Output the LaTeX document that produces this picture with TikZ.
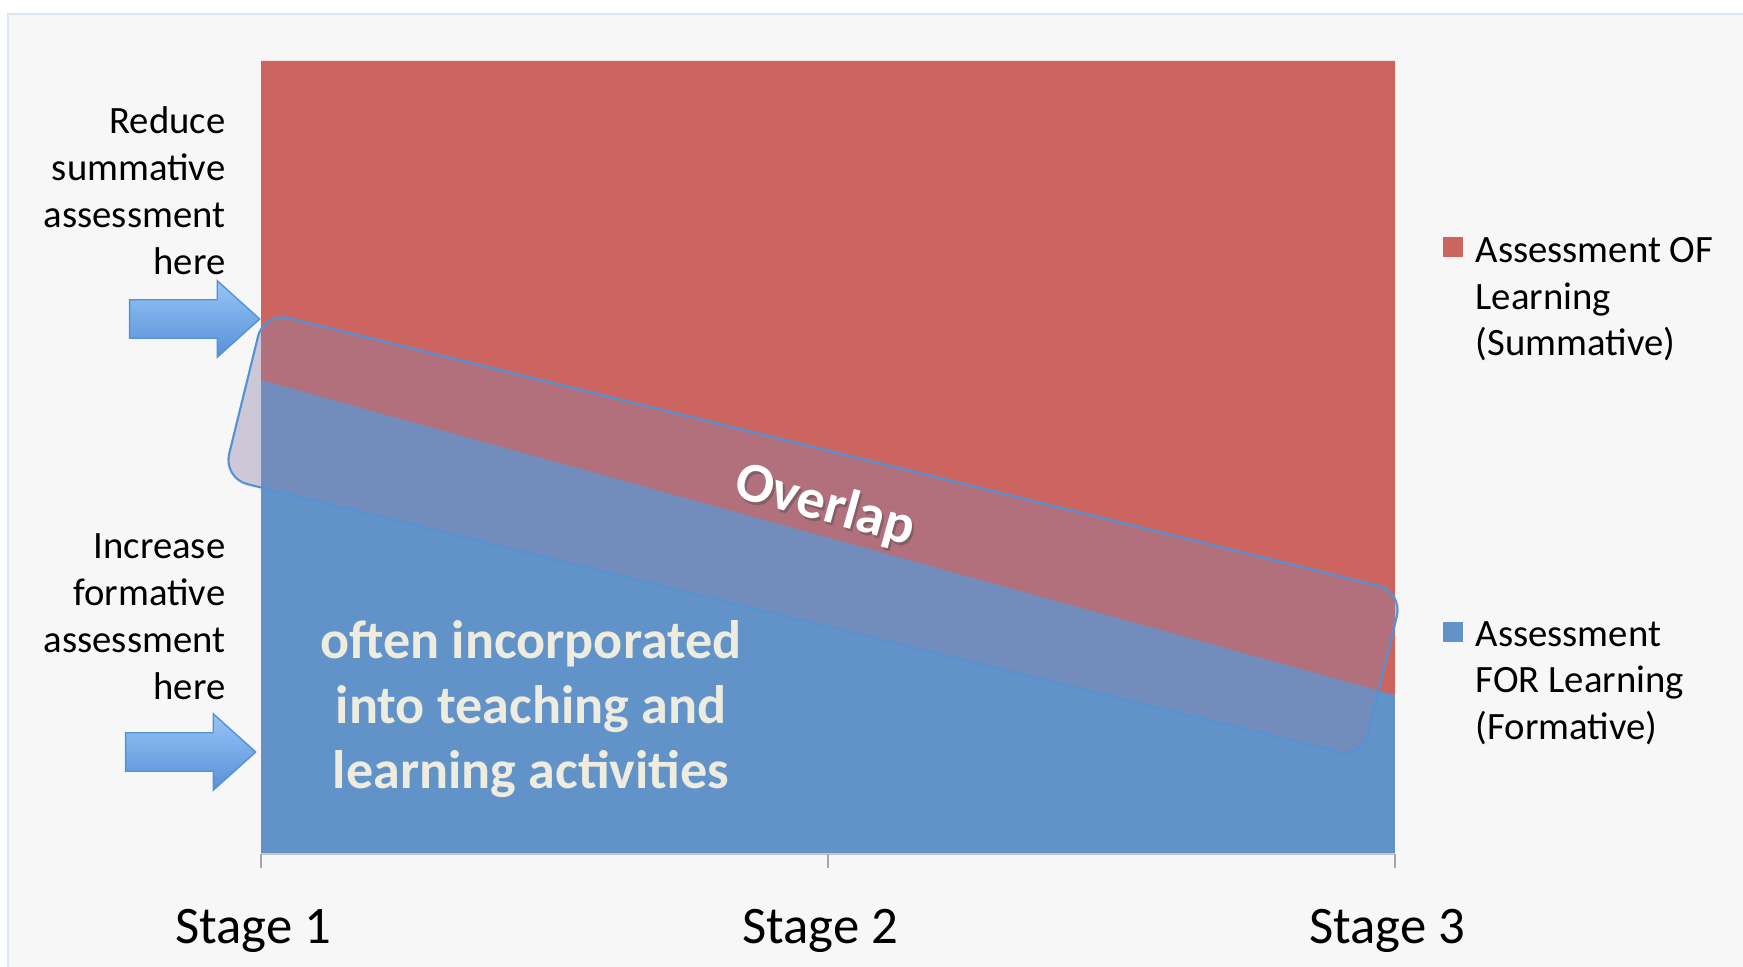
\documentclass[tikz,border=0pt]{standalone}
\usepackage{fontspec}
\setmainfont{Carlito}
\usetikzlibrary{positioning}
\usetikzlibrary{shapes.arrows}

\definecolor{ofred}{RGB}{204,101,96}
\definecolor{forblue}{RGB}{97,147,200}
\definecolor{boxfill}{RGB}{140,130,170}
\definecolor{boxline}{RGB}{84,146,212}
\definecolor{cream}{RGB}{238,235,223}
\definecolor{arrowtop}{RGB}{150,196,247}
\definecolor{arrowbot}{RGB}{86,145,214}
\definecolor{pagegray}{RGB}{247,247,247}
\definecolor{frameblue}{RGB}{218,230,243}

\tikzset{
  sidelabel/.style={align=right, anchor=north east, inner sep=0pt,
    font=\fontsize{11}{13.4}\selectfont},
  legendlabel/.style={align=left, anchor=north west, inner sep=0pt,
    font=\fontsize{11}{13.2}\selectfont},
  legendkey/.style={minimum size=0.2cm, inner sep=0pt},
  stagelabel/.style={anchor=north, inner sep=0pt, font=\fontsize{15}{18}\selectfont},
  pointer/.style={single arrow, single arrow head extend=0.19cm,
    single arrow tip angle=84, minimum height=1.30cm, inner xsep=0pt,
    inner ysep=0.185cm, top color=arrowtop, bottom color=arrowbot,
    draw=arrowbot, line width=0.4pt},
  overlapbox/.style={rectangle, rounded corners=0.25cm, minimum width=11.72cm,
    minimum height=1.71cm, rotate=-13.8, fill=boxfill, fill opacity=0.4,
    draw=boxline, line width=0.6pt},
  overlaptext/.style={rotate=-15.5, inner sep=0pt, font=\fontsize{16}{19}\selectfont\bfseries}
}

\begin{document}
\begin{tikzpicture}[x=0.01cm, y=-0.01cm]
  \useasboundingbox (0,0) rectangle (1743,967);
  \fill[white] (0,0) rectangle (1743,967);
  \fill[pagegray] (8,14) rectangle (1743,967);
  \draw[frameblue, line width=0.6pt] (8,967) -- (8,14) -- (1743,14);

  % chart areas
  \fill[forblue] (261,61) rectangle (1395,854);
  \fill[ofred] (261,61) -- (1395,61) -- (1395,695) -- (261,380) -- cycle;

  \draw[gray!45, line width=0.6pt] (261,854) -- (1395,854);
  \foreach \x in {261,828,1395}
    \draw[gray!70, line width=0.6pt] (\x,854) -- (\x,868);

  \node[stagelabel] (stage1) at (253,909) {Stage 1};
  \node[stagelabel] (stage2) at (820,909) {Stage 2};
  \node[stagelabel] (stage3) at (1387,909) {Stage 3};

  \node[align=center, anchor=north, inner sep=0pt, text=cream,
    font=\fontsize{15.4}{18.5}\selectfont\bfseries] (often) at (531,620)
    {often incorporated\\into teaching and\\learning activities};

  \node[overlapbox] (zone) at (813,535) {};
  \node[overlaptext, text=black!70, opacity=0.45] (overlapshadow) at (827,509) {Overlap};
  \node[overlaptext, text=white] (overlap) at (825,506) {Overlap};

  \node[sidelabel] (reduce) at (226,106) {Reduce\\summative\\assessment\\here};
  \node[sidelabel] (increase) at (226,533) {Increase\\formative\\assessment\\here};

  \node[pointer] (arrowsum) at (184,319) {};
  \node[pointer] (arrowform) at (180,752) {};

  \node[legendkey, fill=ofred] (keyof) at (1453,247) {};
  \node[legendlabel] (labelof) at (1475,237) {Assessment OF\\Learning\\(Summative)};
  \node[legendkey, fill=forblue] (keyfor) at (1453,632) {};
  \node[legendlabel] (labelfor) at (1475,621) {Assessment\\FOR Learning\\(Formative)};
\end{tikzpicture}
\end{document}
